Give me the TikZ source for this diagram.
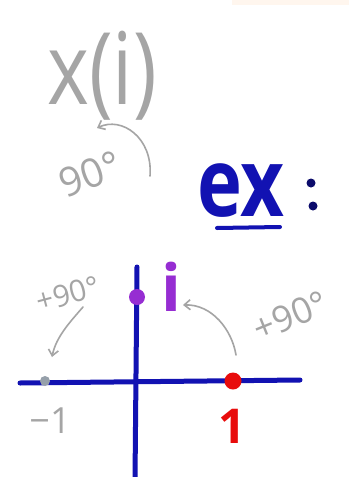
\documentclass[tikz,border=0pt]{standalone}
\usepackage{fontspec}
\setmainfont{Open Sans}
\usetikzlibrary{arrows.meta}
\definecolor{pen}{RGB}{165,165,165}
\definecolor{axisblue}{RGB}{18,18,178}
\definecolor{ipurple}{RGB}{150,45,210}
\definecolor{onered}{RGB}{232,12,12}
\definecolor{dotgray}{RGB}{150,160,170}
\definecolor{faintpeach}{RGB}{255,246,238}
\begin{document}
\begin{tikzpicture}[x=1pt,y=-1pt,
  grayink/.style={text=pen, inner sep=0pt},
  grayarrow/.style={draw=pen, line width=1.6pt, line cap=round, -{Straight Barb[length=6pt,width=10pt]}},
  axisline/.style={draw=axisblue, line width=5pt, line cap=round},
  ptdot/.style={circle, inner sep=0pt, minimum size=#1}]
\useasboundingbox (0,0) rectangle (349,477);
\fill[white] (0,0) rectangle (349,477);
\fill[faintpeach] (232,0) rectangle (349,5);

% top: x(i) and 90 deg
\node[grayink, font=\fontsize{80}{80}\selectfont, yscale=1.25, anchor=base] (xi) at (102,104) {x(i)};
\node[grayink, font=\fontsize{40}{40}\selectfont, rotate=20] (ninety) at (90,174) {90°};
\coordinate (a1s) at (150,176);
\coordinate (a1e) at (97,128);
\draw[grayarrow] (a1s) .. controls (153,138) and (122,116) .. (a1e);

% ex :
\node[text=axisblue, font=\fontsize{95}{95}\bfseries\selectfont, xscale=0.8, anchor=base] (ex) at (241,216) {ex};
\coordinate (ul1) at (217,228);
\coordinate (ul2) at (280,227);
\draw[axisline, line width=4pt] (ul1) -- (ul2);
\node[ptdot=9pt, fill=axisblue!60!black] (c1) at (311,183) {};
\node[ptdot=9pt, fill=axisblue!60!black] (c2) at (313,206) {};

% axes
\coordinate (hl) at (20,383);
\coordinate (hr) at (300,380);
\coordinate (vt) at (137,267);
\coordinate (vb) at (135,480);
\draw[axisline] (hl) -- (hr);
\draw[axisline] (vt) -- (vb);

% points
\node[ptdot=16pt, fill=ipurple] (pi) at (137,297) {};
\node[ptdot=17pt, fill=onered] (p1) at (233,381) {};
\node[ptdot=10pt, fill=dotgray] (pm1) at (45,381) {};

% labels
\node[text=ipurple, font=\fontsize{65}{65}\bfseries\selectfont, anchor=base] (li) at (171,311) {i};
\node[text=onered, font=\fontsize{48}{48}\bfseries\selectfont, anchor=base] (l1) at (232,443) {1};
\node[grayink, font=\fontsize{36}{36}\selectfont, anchor=base] (lm1) at (50,433) {−1};

% +90 arrows
\node[grayink, font=\fontsize{30}{30}\selectfont, rotate=15] (plL) at (68,294) {+90°};
\node[grayink, font=\fontsize{36}{36}\selectfont, rotate=22] (plR) at (290,316) {+90°};
\coordinate (a2s) at (83,307);
\coordinate (a2e) at (52,357);
\draw[grayarrow] (a2s) .. controls (70,322) and (56,337) .. (a2e);
\coordinate (a3s) at (236,355);
\coordinate (a3e) at (183,305);
\draw[grayarrow] (a3s) .. controls (232,330) and (212,304) .. (a3e);
\end{tikzpicture}
\end{document}
